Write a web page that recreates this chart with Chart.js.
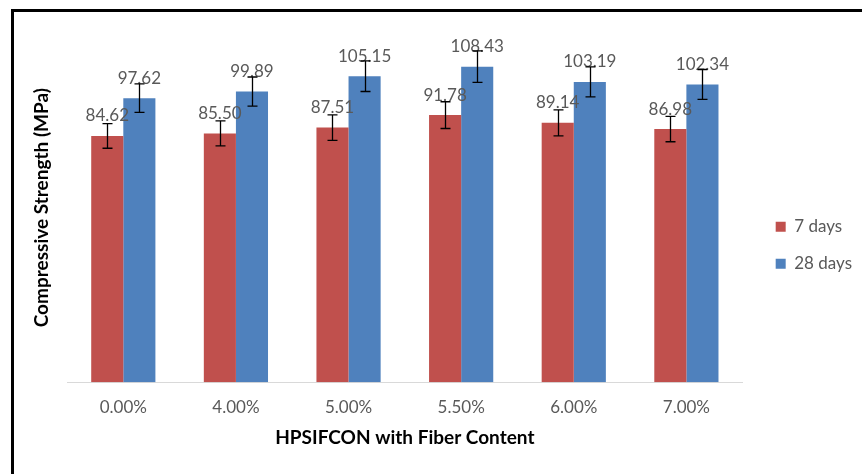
<!DOCTYPE html>
<html>
<head>
<meta charset="utf-8">
<script src="https://cdn.jsdelivr.net/npm/chart.js@4.4.0/dist/chart.umd.min.js"></script>
<style>
  html, body { margin: 0; padding: 0; background: #fff; }
  #frame { position: absolute; left: 11px; top: 9px; width: 848px; height: 462px;
           border-left: 3px solid #000; border-top: 3px solid #000; }
  #chart { display: block; }
</style>
</head>
<body>
<div id="frame"><canvas id="chart" width="848" height="462"></canvas></div>
<script>
  // ---- data ----
  const fiberContent = ['0.00%', '4.00%', '5.00%', '5.50%', '6.00%', '7.00%'];
  const strength7  = [84.62, 85.50, 87.51, 91.78, 89.14, 86.98];
  const strength28 = [97.62, 99.89, 105.15, 108.43, 103.19, 102.34];
  const err7  = [4.23, 4.28, 4.38, 4.59, 4.46, 4.35];
  const err28 = [4.88, 4.99, 5.26, 5.42, 5.16, 5.12];

  const FONT = 'Lato, Calibri, "Liberation Sans", sans-serif';
  const GREY = '#595959';

  // push the right-hand legend a bit away from the plot area
  const legendGap = {
    id: 'legendGap',
    afterInit(chart, args, opts) {
      const lg = chart.legend;
      const fit = lg.fit;
      lg.fit = function () { fit.call(this); this.width += opts.gap; };
    },
    afterLayout(chart, args, opts) {
      const lg = chart.legend;
      lg.left += opts.gap; lg.right += opts.gap;
      lg.top += opts.dy; lg.bottom += opts.dy;
    }
  };

  // value labels above bars + error bars
  const barExtras = {
    id: 'barExtras',
    afterDatasetsDraw(chart) {
      const ctx = chart.ctx, y = chart.scales.y;
      const errs = [err7, err28];
      ctx.save();
      ctx.font = '17px ' + FONT;
      ctx.fillStyle = GREY;
      ctx.textAlign = 'center';
      ctx.textBaseline = 'middle';
      chart.data.datasets.forEach((ds, di) => {
        chart.getDatasetMeta(di).data.forEach((bar, i) => {
          ctx.fillText(ds.data[i].toFixed(2), bar.x, y.getPixelForValue(ds.data[i]) - 20);
        });
      });
      ctx.strokeStyle = '#000';
      ctx.lineWidth = 1.3;
      chart.data.datasets.forEach((ds, di) => {
        chart.getDatasetMeta(di).data.forEach((bar, i) => {
          const hi = y.getPixelForValue(ds.data[i] + errs[di][i]);
          const lo = y.getPixelForValue(ds.data[i] - errs[di][i]);
          const x = Math.round(bar.x) + 0.5;
          ctx.beginPath();
          ctx.moveTo(x, hi); ctx.lineTo(x, lo);
          ctx.moveTo(x - 5, hi); ctx.lineTo(x + 5, hi);
          ctx.moveTo(x - 5, lo); ctx.lineTo(x + 5, lo);
          ctx.stroke();
        });
      });
      ctx.restore();
    }
  };

  new Chart(document.getElementById('chart'), {
    type: 'bar',
    data: {
      labels: fiberContent,
      datasets: [
        { label: '7 days',  data: strength7,  backgroundColor: '#C0504D' },
        { label: '28 days', data: strength28, backgroundColor: '#4F81BD' }
      ]
    },
    options: {
      responsive: false,
      devicePixelRatio: 1,
      animation: false,
      categoryPercentage: 0.57,
      barPercentage: 1,
      layout: { padding: { top: 21, bottom: 24.6, left: 0, right: 0 } },
      plugins: {
        legend: {
          position: 'right',
          labels: { boxWidth: 10, boxHeight: 10, padding: 20, color: GREY,
                    font: { family: FONT, size: 17 } }
        },
        tooltip: { enabled: false },
        legendGap: { gap: 13, dy: 4 }
      },
      scales: {
        x: {
          grid: { display: false, drawTicks: false },
          border: { display: true, color: '#D9D9D9', width: 1 },
          ticks: { color: GREY, padding: 15, font: { family: FONT, size: 17 } },
          title: { display: true, text: 'HPSIFCON with Fiber Content', color: '#000',
                   padding: { top: -6, bottom: 0 },
                   font: { family: FONT, size: 19, weight: 'bold' } }
        },
        y: {
          min: 0, max: 120,
          grid: { display: false, drawTicks: false },
          border: { display: false },
          ticks: { display: false },
          title: { display: true, text: 'Compressive Strength (MPa)', color: '#000',
                   padding: { top: 16.6, bottom: 13.6 },
                   font: { family: FONT, size: 19, weight: 'bold' } }
        }
      }
    },
    plugins: [legendGap, barExtras]
  });
</script>
</body>
</html>
